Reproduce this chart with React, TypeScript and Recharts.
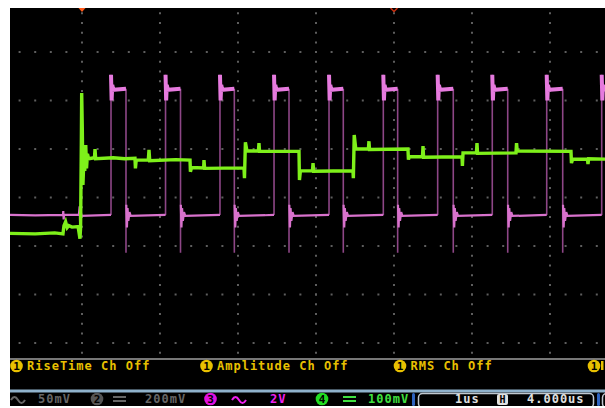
import { LineChart, Line, XAxis, YAxis, ReferenceLine, ReferenceDot } from "recharts"

type Pt = { t: number; v: number | null }

// time in µs (trigger at 0, 1 µs/div), level in screen divisions
const T_START = -0.923
const T_END = 6.723
const V_TOP = 3.907
const V_BOTTOM = -3.309

const gridTimes = [0, 1, 2, 3, 4, 5, 6]
const gridLevels = [3, 2, 1, 0, -1, -2, -3]

// channel 3 (pink) pulse train
const pinkRise = [0.372, 1.071, 1.769, 2.462, 3.167, 3.863, 4.56, 5.26, 5.958, 6.663]
const pinkFall = [0.564, 1.263, 1.953, 2.654, 3.35, 4.047, 4.76, 5.458, 6.163]
const pinkLow = -0.36
const pinkHigh = 2.24
const pinkOvershoot = 2.53
const pinkUndershoot = -1.14
// ringing at the start of each high / low stretch: [dt, level]
const pinkHighRing = [[0, 2.53], [0.008, 2.0], [0.016, 2.32], [0.03, 2.22]]
const pinkLowRing = [[0.004, -0.15], [0.012, -0.62], [0.02, -0.22], [0.03, -0.48], [0.045, -0.3], [0.06, -0.38]]
const pinkLead = [
  [-0.923, -0.36], [-0.6, -0.37], [-0.244, -0.36], [-0.24, -0.28], [-0.235, -0.45], [-0.23, -0.36],
  [-0.04, -0.36], [-0.03, -0.18], [-0.025, -0.5], [-0.015, -0.3], [-0.005, -0.38], [0.372, -0.36],
]

// channel 4 (green) staircase
const greenTrace = [
  [-0.923, -0.74], [-0.6, -0.75], [-0.35, -0.73], [-0.244, -0.75], [-0.231, -0.58], [-0.21, -0.5],
  [-0.19, -0.62], [-0.17, -0.58], [-0.128, -0.61], [-0.05, -0.6], [-0.026, -0.85], [-0.018, -0.62],
  [-0.008, 1.2], [-0.004, 2.155], [0.004, 1.4], [0.012, 0.26], [0.022, 0.7], [0.035, 0.55],
  [0.048, 1.08], [0.058, 0.6], [0.07, 0.9], [0.085, 0.8], [0.16, 0.82], [0.167, 1.0], [0.175, 0.8],
  [0.4, 0.82], [0.55, 0.8], [0.679, 0.81], [0.685, 0.6], [0.695, 0.77], [0.85, 0.77], [0.859, 0.98],
  [0.868, 0.76], [1.2, 0.78], [1.385, 0.77], [1.39, 0.53], [1.405, 0.62], [1.56, 0.61], [1.564, 0.77],
  [1.572, 0.6], [2.077, 0.61], [2.083, 0.4], [2.095, 1.14], [2.115, 0.96], [2.262, 0.96], [2.269, 1.12],
  [2.276, 0.95], [2.782, 0.95], [2.788, 0.36], [2.8, 0.55], [2.955, 0.55], [2.962, 0.71], [2.97, 0.54],
  [3.474, 0.55], [3.479, 0.4], [3.49, 1.29], [3.51, 1.0], [3.672, 1.0], [3.679, 1.16], [3.686, 0.99],
  [4.179, 1.0], [4.185, 0.78], [4.195, 0.84], [4.365, 0.84], [4.372, 1.06], [4.379, 0.83], [4.872, 0.84],
  [4.877, 0.65], [4.885, 0.92], [5.057, 0.92], [5.064, 1.12], [5.071, 0.91], [5.564, 0.92], [5.571, 1.12],
  [5.58, 0.96], [6.269, 0.95], [6.275, 0.71], [6.29, 0.79], [6.48, 0.79], [6.487, 0.69], [6.495, 0.8],
  [6.723, 0.79],
]

// measurement slots; the fourth one only shows its badge at the right edge
const measurements = ["RiseTime Ch Off", "Amplitude Ch Off", "RMS Ch Off", ""]

function buildPink() {
  const edges: Pt[] = []
  const high: Pt[] = []
  const low: Pt[] = pinkLead.map(([t, v]) => ({ t, v }))
  low.push({ t: pinkRise[0], v: null })
  pinkRise.forEach((r, i) => {
    const f = pinkFall[i]
    const end = f ?? T_END
    edges.push({ t: r, v: pinkLow }, { t: r, v: pinkOvershoot }, { t: r, v: null })
    pinkHighRing.forEach(([dt, v]) => high.push({ t: r + dt, v }))
    high.push({ t: end, v: pinkHigh }, { t: end, v: null })
    if (f === undefined) return
    edges.push({ t: f, v: pinkHigh }, { t: f, v: pinkUndershoot }, { t: f, v: null })
    pinkLowRing.forEach(([dt, v]) => low.push({ t: f + dt, v }))
    const next = pinkRise[i + 1]
    low.push({ t: next, v: pinkLow }, { t: next, v: null })
  })
  return { edges, high, low }
}

const pink = buildPink()
const green: Pt[] = greenTrace.map(([t, v]) => ({ t, v }))

const mono = { fontFamily: "DejaVu Sans Mono", fontWeight: 700, fontSize: 12, letterSpacing: 1 }

function TriggerMark(props: any) {
  const { cx, cy } = props
  return <path d={`M${cx - 3.5},${cy} L${cx + 3.5},${cy} L${cx},${cy + 4} Z`} fill="#ff5a1a" />
}

function DelayMark(props: any) {
  const { cx, cy } = props
  return <path d={`M${cx - 3.5},${cy} L${cx},${cy + 3.5} L${cx + 3.5},${cy}`} fill="none" stroke="#c83010" strokeWidth={1.5} />
}

function Badge({ x, y, n, fill }: { x: number; y: number; n: string; fill: string }) {
  return (
    <g>
      <circle cx={x} cy={y} r={6.3} fill={fill} />
      <text x={x} y={y + 4} textAnchor="middle" fill="#000" style={{ ...mono, fontSize: 11, letterSpacing: 0 }}>{n}</text>
    </g>
  )
}

function Wave({ x, y, color }: { x: number; y: number; color: string }) {
  return <path d={`M${x},${y} q3.5,-6 7,0 t7,0`} fill="none" stroke={color} strokeWidth={2} />
}

function DcMark({ x, y, color }: { x: number; y: number; color: string }) {
  return (
    <g fill={color}>
      <rect x={x} y={y - 3} width={13} height={2} />
      <rect x={x} y={y + 1} width={13} height={2} />
    </g>
  )
}

function StatusPanel() {
  const off = "#666"
  const mag = "#f020f0"
  const grn = "#40e040"
  const yel = "#e8c000"
  const measX = [6.5, 196.5, 390, 584]
  return (
    <svg width={595} height={48} style={{ position: "absolute", left: 0, top: 350 }}>
      <rect x={0} y={0} width={595} height={2} fill="#777" />
      {measurements.map((m, i) => (
        <g key={i}>
          <Badge x={measX[i]} y={8} n="1" fill={yel} />
          {m && <text x={measX[i] + 10.5} y={12} fill={yel} style={mono}>{m}</text>}
        </g>
      ))}
      <rect x={591} y={3} width={2.5} height={9} fill={yel} />
      <rect x={0} y={31.5} width={595} height={3} fill="#8fb2cc" />
      <Wave x={1} y={42} color={off} />
      <text x={28} y={45.3} fill={off} style={mono}>50mV</text>
      <Badge x={87} y={41} n="2" fill="#555" />
      <DcMark x={103} y={41} color={off} />
      <text x={135} y={45.3} fill={off} style={mono}>200mV</text>
      <Badge x={200.5} y={41} n="3" fill="#e010e0" />
      <Wave x={222} y={42} color={mag} />
      <text x={260} y={45.3} fill={mag} style={mono}>2V</text>
      <Badge x={312} y={41} n="4" fill="#22dd22" />
      <DcMark x={333} y={41} color={grn} />
      <text x={358} y={45.3} fill={grn} style={mono}>100mV</text>
      <rect x={402} y={35} width={3} height={13} rx={1.5} fill="#2f64c0" />
      <rect x={408.5} y={35.5} width={175} height={14} rx={4} fill="none" stroke="#c0c8d0" strokeWidth={1.5} />
      <text x={445} y={45.3} fill="#e0e0e0" style={mono}>1us</text>
      <rect x={487} y={36} width={11} height={11} rx={2} fill="#e0e0e0" />
      <text x={492.5} y={45} textAnchor="middle" fill="#000" style={{ ...mono, fontSize: 10, letterSpacing: 0 }}>H</text>
      <text x={517} y={45.3} fill="#e0e0e0" style={mono}>4.000us</text>
      <rect x={587} y={35} width={3} height={13} rx={1.5} fill="#2f64c0" />
      <rect x={592.5} y={35.5} width={20} height={14} rx={4} fill="none" stroke="#c0c8d0" strokeWidth={1.5} />
    </svg>
  )
}

export default function App() {
  return (
    <div
      style={{
        position: "fixed",
        left: 10,
        top: 8,
        width: 595,
        height: 398,
        background: "#000",
        overflow: "hidden",
      }}
    >
      <LineChart width={596.4} height={350} margin={{ top: 0, right: 0, bottom: 0, left: 0 }}>
        <XAxis type="number" dataKey="t" domain={[T_START, T_END]} allowDataOverflow hide />
        <YAxis type="number" domain={[V_BOTTOM, V_TOP]} allowDataOverflow hide />
        {gridTimes.map((t) => (
          <ReferenceLine key={`t${t}`} x={t} stroke="#5e5e5e" strokeWidth={2} strokeDasharray="2 7.7" strokeDashoffset={5.5} />
        ))}
        {gridLevels.map((v) => (
          <ReferenceLine key={`v${v}`} y={v} stroke="#5e5e5e" strokeWidth={2} strokeDasharray="2 13.6" strokeDashoffset={7} />
        ))}
        <Line data={pink.edges} dataKey="v" type="linear" stroke="#8d4686" strokeWidth={1.6} dot={false} activeDot={false} connectNulls={false} isAnimationActive={false} />
        <Line data={pink.low} dataKey="v" type="linear" stroke="#d872cc" strokeWidth={2.2} dot={false} activeDot={false} connectNulls={false} isAnimationActive={false} />
        <Line data={pink.high} dataKey="v" type="linear" stroke="#e67ade" strokeWidth={4} dot={false} activeDot={false} connectNulls={false} isAnimationActive={false} />
        <Line data={green} dataKey="v" type="linear" stroke="#7ef01a" strokeWidth={3.4} dot={false} activeDot={false} isAnimationActive={false} />
        <ReferenceDot x={0} y={V_TOP} r={4} shape={TriggerMark} />
        <ReferenceDot x={4} y={V_TOP} r={4} shape={DelayMark} />
      </LineChart>
      <StatusPanel />
    </div>
  )
}
